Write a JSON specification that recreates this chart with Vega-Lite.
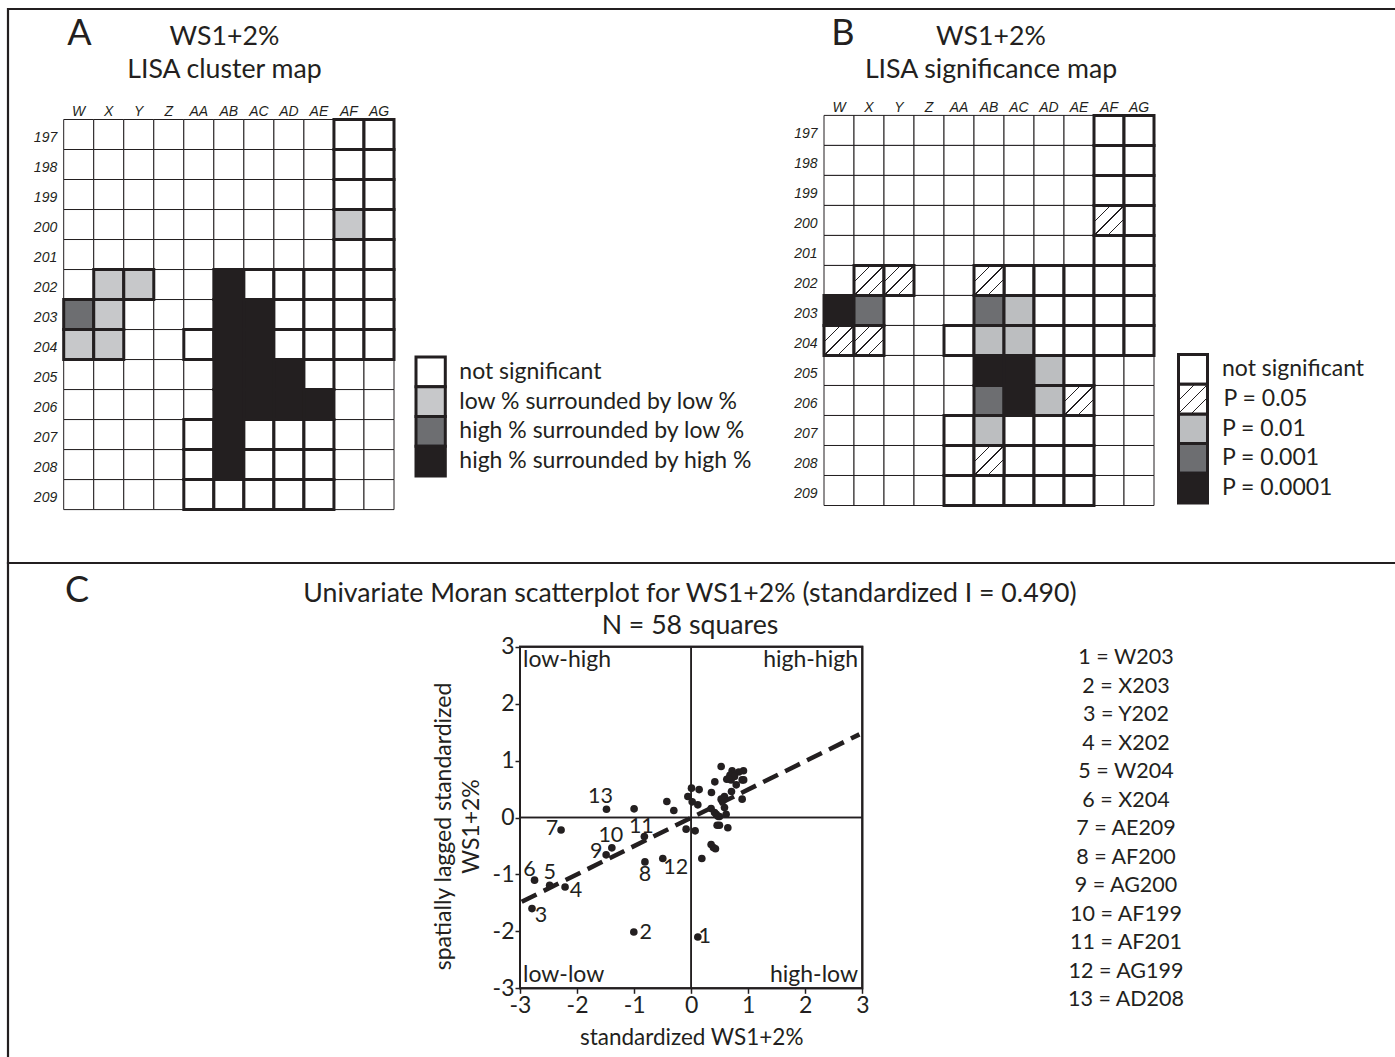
{
"$schema":"https://vega.github.io/schema/vega-lite/v6.json",
"width":1395,"height":1057,"padding":0,"autosize":{"type":"none"},"background":"white",
"config":{"view":{"stroke":null},"text":{"font":"Lato","color":"#231f20"},"axis":{"grid":false}},
"datasets":{
"sheet":[{"panel":"maps"},{"panel":"scatter"}],
"headA":[{"role":"letter","line":1,"text":"A"},{"role":"heading","line":1,"text":"WS1+2%"},{"role":"heading","line":2,"text":"LISA cluster map"}],
"headB":[{"role":"letter","line":1,"text":"B"},{"role":"heading","line":1,"text":"WS1+2%"},{"role":"heading","line":2,"text":"LISA significance map"}],
"headC":[{"role":"letter","line":1,"text":"C"},{"role":"heading","line":1,"text":"Univariate Moran scatterplot for WS1+2% (standardized I = 0.490)"},{"role":"heading","line":2,"text":"N = 58 squares"}],
"legendA":[{"key":"ns","label":"not significant"},{"key":"LL","label":"low % surrounded by low %"},{"key":"HL","label":"high % surrounded by low %"},{"key":"HH","label":"high % surrounded by high %"}],
"legendB":[{"key":"ns","label":"not significant"},{"key":"0.05","label":"P = 0.05"},{"key":"0.01","label":"P = 0.01"},{"key":"0.001","label":"P = 0.001"},{"key":"0.0001","label":"P = 0.0001"}],
"quadrants":[{"xside":"low","yside":"high","label":"low-high"},{"xside":"high","yside":"high","label":"high-high"},{"xside":"low","yside":"low","label":"low-low"},{"xside":"high","yside":"low","label":"high-low"}],
"fit":[{"x":-2.97,"y":-1.48},{"x":2.95,"y":1.46}],
"points":[
{"id":1,"square":"W203","entry":"1 =  W203","x":0.117,"y":-2.10},
{"id":2,"square":"X203","entry":"2 = X203","x":-1.005,"y":-2.01},
{"id":3,"square":"Y202","entry":"3 = Y202","x":-2.79,"y":-1.60},
{"id":4,"square":"X202","entry":"4 = X202","x":-2.21,"y":-1.22},
{"id":5,"square":"W204","entry":"5 = W204","x":-2.48,"y":-1.19},
{"id":6,"square":"X204","entry":"6 = X204","x":-2.745,"y":-1.10},
{"id":7,"square":"AE209","entry":"7 = AE209","x":-2.28,"y":-0.22},
{"id":8,"square":"AF200","entry":"8 = AF200","x":-0.81,"y":-0.78},
{"id":9,"square":"AG200","entry":"9 = AG200","x":-1.49,"y":-0.656},
{"id":10,"square":"AF199","entry":"10 = AF199","x":-1.39,"y":-0.533},
{"id":11,"square":"AF201","entry":"11 = AF201","x":-0.82,"y":-0.334},
{"id":12,"square":"AG199","entry":"12 = AG199","x":-0.497,"y":-0.72},
{"id":13,"square":"AD208","entry":"13 = AD208","x":-1.484,"y":0.146},
{"x":0.526,"y":0.896},{"x":0.718,"y":0.82},{"x":0.917,"y":0.82},{"x":0.835,"y":0.80},{"x":0.74,"y":0.76},{"x":0.68,"y":0.74},
{"x":0.625,"y":0.673},{"x":0.70,"y":0.66},{"x":0.894,"y":0.66},{"x":0.92,"y":0.66},{"x":0.79,"y":0.574},{"x":0.415,"y":0.626},
{"x":0.707,"y":0.457},{"x":0.356,"y":0.44},{"x":0.006,"y":0.515},{"x":0.14,"y":0.49},{"x":-0.058,"y":0.369},{"x":0.018,"y":0.275},
{"x":0.117,"y":0.222},{"x":-0.426,"y":0.281},{"x":-0.304,"y":0.123},{"x":0.894,"y":0.322},{"x":0.584,"y":0.369},{"x":0.526,"y":0.322},
{"x":0.555,"y":0.293},{"x":0.584,"y":0.176},{"x":0.35,"y":0.158},{"x":0.41,"y":0.088},{"x":0.44,"y":0.058},{"x":0.496,"y":0.018},
{"x":0.613,"y":0.058},{"x":0.456,"y":-0.135},{"x":0.496,"y":-0.135},{"x":0.643,"y":-0.18},{"x":-0.088,"y":-0.205},{"x":0.07,"y":-0.234},
{"x":0.35,"y":-0.474},{"x":0.39,"y":-0.527},{"x":0.426,"y":-0.55},{"x":0.187,"y":-0.72},{"x":-1.0,"y":0.152},
{"x":0.76,"y":0.72},{"x":0.66,"y":0.68},{"x":0.47,"y":0.02},{"x":0.56,"y":0.33}],
"squares":[
{"col":"W","row":197},{"col":"X","row":197},{"col":"Y","row":197},{"col":"Z","row":197},{"col":"AA","row":197},{"col":"AB","row":197},{"col":"AC","row":197},{"col":"AD","row":197},{"col":"AE","row":197},{"col":"AF","row":197,"cluster":"ns","signif":"ns"},{"col":"AG","row":197,"cluster":"ns","signif":"ns"},
{"col":"W","row":198},{"col":"X","row":198},{"col":"Y","row":198},{"col":"Z","row":198},{"col":"AA","row":198},{"col":"AB","row":198},{"col":"AC","row":198},{"col":"AD","row":198},{"col":"AE","row":198},{"col":"AF","row":198,"cluster":"ns","signif":"ns"},{"col":"AG","row":198,"cluster":"ns","signif":"ns"},
{"col":"W","row":199},{"col":"X","row":199},{"col":"Y","row":199},{"col":"Z","row":199},{"col":"AA","row":199},{"col":"AB","row":199},{"col":"AC","row":199},{"col":"AD","row":199},{"col":"AE","row":199},{"col":"AF","row":199,"cluster":"ns","signif":"ns"},{"col":"AG","row":199,"cluster":"ns","signif":"ns"},
{"col":"W","row":200},{"col":"X","row":200},{"col":"Y","row":200},{"col":"Z","row":200},{"col":"AA","row":200},{"col":"AB","row":200},{"col":"AC","row":200},{"col":"AD","row":200},{"col":"AE","row":200},{"col":"AF","row":200,"cluster":"LL","signif":"0.05"},{"col":"AG","row":200,"cluster":"ns","signif":"ns"},
{"col":"W","row":201},{"col":"X","row":201},{"col":"Y","row":201},{"col":"Z","row":201},{"col":"AA","row":201},{"col":"AB","row":201},{"col":"AC","row":201},{"col":"AD","row":201},{"col":"AE","row":201},{"col":"AF","row":201,"cluster":"ns","signif":"ns"},{"col":"AG","row":201,"cluster":"ns","signif":"ns"},
{"col":"W","row":202},{"col":"X","row":202,"cluster":"LL","signif":"0.05"},{"col":"Y","row":202,"cluster":"LL","signif":"0.05"},{"col":"Z","row":202},{"col":"AA","row":202},{"col":"AB","row":202,"cluster":"HH","signif":"0.05"},{"col":"AC","row":202,"cluster":"ns","signif":"ns"},{"col":"AD","row":202,"cluster":"ns","signif":"ns"},{"col":"AE","row":202,"cluster":"ns","signif":"ns"},{"col":"AF","row":202,"cluster":"ns","signif":"ns"},{"col":"AG","row":202,"cluster":"ns","signif":"ns"},
{"col":"W","row":203,"cluster":"HL","signif":"0.0001"},{"col":"X","row":203,"cluster":"LL","signif":"0.001"},{"col":"Y","row":203},{"col":"Z","row":203},{"col":"AA","row":203},{"col":"AB","row":203,"cluster":"HH","signif":"0.001"},{"col":"AC","row":203,"cluster":"HH","signif":"0.01"},{"col":"AD","row":203,"cluster":"ns","signif":"ns"},{"col":"AE","row":203,"cluster":"ns","signif":"ns"},{"col":"AF","row":203,"cluster":"ns","signif":"ns"},{"col":"AG","row":203,"cluster":"ns","signif":"ns"},
{"col":"W","row":204,"cluster":"LL","signif":"0.05"},{"col":"X","row":204,"cluster":"LL","signif":"0.05"},{"col":"Y","row":204},{"col":"Z","row":204},{"col":"AA","row":204,"cluster":"ns","signif":"ns"},{"col":"AB","row":204,"cluster":"HH","signif":"0.01"},{"col":"AC","row":204,"cluster":"HH","signif":"0.01"},{"col":"AD","row":204,"cluster":"ns","signif":"ns"},{"col":"AE","row":204,"cluster":"ns","signif":"ns"},{"col":"AF","row":204,"cluster":"ns","signif":"ns"},{"col":"AG","row":204,"cluster":"ns","signif":"ns"},
{"col":"W","row":205},{"col":"X","row":205},{"col":"Y","row":205},{"col":"Z","row":205},{"col":"AA","row":205},{"col":"AB","row":205,"cluster":"HH","signif":"0.0001"},{"col":"AC","row":205,"cluster":"HH","signif":"0.0001"},{"col":"AD","row":205,"cluster":"HH","signif":"0.01"},{"col":"AE","row":205,"cluster":"ns","signif":"ns"},{"col":"AF","row":205},{"col":"AG","row":205},
{"col":"W","row":206},{"col":"X","row":206},{"col":"Y","row":206},{"col":"Z","row":206},{"col":"AA","row":206},{"col":"AB","row":206,"cluster":"HH","signif":"0.001"},{"col":"AC","row":206,"cluster":"HH","signif":"0.0001"},{"col":"AD","row":206,"cluster":"HH","signif":"0.01"},{"col":"AE","row":206,"cluster":"HH","signif":"0.05"},{"col":"AF","row":206},{"col":"AG","row":206},
{"col":"W","row":207},{"col":"X","row":207},{"col":"Y","row":207},{"col":"Z","row":207},{"col":"AA","row":207,"cluster":"ns","signif":"ns"},{"col":"AB","row":207,"cluster":"HH","signif":"0.01"},{"col":"AC","row":207,"cluster":"ns","signif":"ns"},{"col":"AD","row":207,"cluster":"ns","signif":"ns"},{"col":"AE","row":207,"cluster":"ns","signif":"ns"},{"col":"AF","row":207},{"col":"AG","row":207},
{"col":"W","row":208},{"col":"X","row":208},{"col":"Y","row":208},{"col":"Z","row":208},{"col":"AA","row":208,"cluster":"ns","signif":"ns"},{"col":"AB","row":208,"cluster":"HH","signif":"0.05"},{"col":"AC","row":208,"cluster":"ns","signif":"ns"},{"col":"AD","row":208,"cluster":"ns","signif":"ns"},{"col":"AE","row":208,"cluster":"ns","signif":"ns"},{"col":"AF","row":208},{"col":"AG","row":208},
{"col":"W","row":209},{"col":"X","row":209},{"col":"Y","row":209},{"col":"Z","row":209},{"col":"AA","row":209,"cluster":"ns","signif":"ns"},{"col":"AB","row":209,"cluster":"ns","signif":"ns"},{"col":"AC","row":209,"cluster":"ns","signif":"ns"},{"col":"AD","row":209,"cluster":"ns","signif":"ns"},{"col":"AE","row":209,"cluster":"ns","signif":"ns"},{"col":"AF","row":209},{"col":"AG","row":209}
]},
"resolve":{"scale":{"x":"independent","y":"independent"},"axis":{"x":"independent","y":"independent"}},
"layer":[
{"data":{"name":"sheet"},"mark":{"type":"rect","filled":false,"stroke":"#231f20","strokeWidth":2.2},
 "encoding":{"x":{"datum":"sheet","type":"nominal","axis":null,"scale":{"type":"band","domain":["sheet"],"range":[8,1420],"padding":0}},
 "y":{"field":"panel","type":"nominal","axis":null,"scale":{"type":"band","domain":["maps","scatter"],"range":[9,1117],"padding":0}}}},

{"data":{"name":"squares"},"layer":[
 {"mark":{"type":"rect","fill":"white","stroke":"#231f20","strokeWidth":1},
  "encoding":{"x":{"field":"col","type":"nominal","sort":null,"title":null,"scale":{"type":"band","padding":0,"domain":["W","X","Y","Z","AA","AB","AC","AD","AE","AF","AG"],"range":[63.7,394]},
    "axis":{"orient":"top","offset":-119.5,"domain":false,"ticks":false,"labelAngle":0,"labelPadding":1,"labelFont":"Liberation Sans","labelFontStyle":"italic","labelFontSize":14,"labelColor":"#231f20"}},
   "y":{"field":"row","type":"ordinal","title":null,"scale":{"type":"band","padding":0,"domain":[197,198,199,200,201,202,203,204,205,206,207,208,209],"range":[119.5,509.6]},
    "axis":{"orient":"left","offset":-63.7,"domain":false,"ticks":false,"labelPadding":7,"labelOffset":3.5,"labelFont":"Liberation Sans","labelFontStyle":"italic","labelFontSize":14,"labelColor":"#231f20"}}}},
 {"transform":[{"filter":"isValid(datum.cluster)"}],"mark":{"type":"rect","stroke":"#231f20","strokeWidth":3},
  "encoding":{"x":{"field":"col","type":"nominal","title":null},"y":{"field":"row","type":"ordinal","title":null},
   "fill":{"field":"cluster","type":"nominal","legend":null,"scale":{"domain":["ns","LL","HL","HH","0.05","0.01","0.001","0.0001"],"range":["#ffffff","#c7c8ca","#6d6e71","#231f20","#ffffff","#bcbec0","#6d6e71","#231f20"]}}}}
]},

{"data":{"name":"squares"},"layer":[
 {"mark":{"type":"rect","fill":"white","stroke":"#231f20","strokeWidth":1},
  "encoding":{"x":{"field":"col","type":"nominal","sort":null,"title":null,"scale":{"type":"band","padding":0,"domain":["W","X","Y","Z","AA","AB","AC","AD","AE","AF","AG"],"range":[824,1154]},
    "axis":{"orient":"top","offset":-115.4,"domain":false,"ticks":false,"labelAngle":0,"labelPadding":1,"labelFont":"Liberation Sans","labelFontStyle":"italic","labelFontSize":14,"labelColor":"#231f20"}},
   "y":{"field":"row","type":"ordinal","title":null,"scale":{"type":"band","padding":0,"domain":[197,198,199,200,201,202,203,204,205,206,207,208,209],"range":[115.4,505.5]},
    "axis":{"orient":"left","offset":-824,"domain":false,"ticks":false,"labelPadding":7,"labelOffset":3.5,"labelFont":"Liberation Sans","labelFontStyle":"italic","labelFontSize":14,"labelColor":"#231f20"}}}},
 {"transform":[{"filter":"isValid(datum.signif) && datum.signif != '0.05'"}],"mark":{"type":"rect","stroke":"#231f20","strokeWidth":3},
  "encoding":{"x":{"field":"col","type":"nominal","title":null},"y":{"field":"row","type":"ordinal","title":null},
   "fill":{"field":"signif","type":"nominal","legend":null,"scale":{"domain":["ns","LL","HL","HH","0.05","0.01","0.001","0.0001"],"range":["#ffffff","#c7c8ca","#6d6e71","#231f20","#ffffff","#bcbec0","#6d6e71","#231f20"]}}}},
 {"transform":[{"filter":"datum.signif == '0.05'"}],"mark":{"type":"rect","stroke":"#231f20","strokeWidth":3,
   "fill":{"gradient":"linear","x1":0,"y1":0,"x2":1,"y2":1,"stops":[{"offset":0,"color":"#ffffff"},{"offset":0.27,"color":"#ffffff"},{"offset":0.27,"color":"#231f20"},{"offset":0.29,"color":"#231f20"},{"offset":0.29,"color":"#ffffff"},{"offset":0.49,"color":"#ffffff"},{"offset":0.49,"color":"#231f20"},{"offset":0.51,"color":"#231f20"},{"offset":0.51,"color":"#ffffff"},{"offset":0.71,"color":"#ffffff"},{"offset":0.71,"color":"#231f20"},{"offset":0.73,"color":"#231f20"},{"offset":0.73,"color":"#ffffff"},{"offset":1,"color":"#ffffff"}]}},
  "encoding":{"x":{"field":"col","type":"nominal","title":null},"y":{"field":"row","type":"ordinal","title":null}}}
]},

{"data":{"name":"legendA"},"layer":[
 {"mark":{"type":"rect","stroke":"#231f20","strokeWidth":3},
  "encoding":{"x":{"datum":"swatch","type":"nominal","axis":null,"scale":{"type":"band","padding":0,"domain":["swatch"],"range":[416,445.3]}},
   "y":{"field":"label","type":"nominal","axis":null,"sort":null,"scale":{"type":"band","padding":0,"domain":["not significant","low % surrounded by low %","high % surrounded by low %","high % surrounded by high %"],"range":[357,476]}},
   "fill":{"field":"key","type":"nominal","legend":null,"scale":{"domain":["ns","LL","HL","HH","0.05","0.01","0.001","0.0001"],"range":["#ffffff","#c7c8ca","#6d6e71","#231f20","#ffffff","#bcbec0","#6d6e71","#231f20"]}}}},
 {"mark":{"type":"text","align":"left","baseline":"middle","fontSize":23,"dx":14},
  "encoding":{"x":{"datum":"swatch","type":"nominal","bandPosition":1,"axis":null},"y":{"field":"label","type":"nominal","axis":null,"sort":null},"text":{"field":"label"}}}
]},

{"data":{"name":"legendB"},"layer":[
 {"transform":[{"filter":"datum.key != '0.05'"}],"mark":{"type":"rect","stroke":"#231f20","strokeWidth":3},
  "encoding":{"x":{"datum":"swatch","type":"nominal","axis":null,"scale":{"type":"band","padding":0,"domain":["swatch"],"range":[1178.5,1207.5]}},
   "y":{"field":"label","type":"nominal","axis":null,"sort":null,"scale":{"type":"band","padding":0,"domain":["not significant","P = 0.05","P = 0.01","P = 0.001","P = 0.0001"],"range":[354.5,503]}},
   "fill":{"field":"key","type":"nominal","legend":null,"scale":{"domain":["ns","LL","HL","HH","0.05","0.01","0.001","0.0001"],"range":["#ffffff","#c7c8ca","#6d6e71","#231f20","#ffffff","#bcbec0","#6d6e71","#231f20"]}}}},
 {"transform":[{"filter":"datum.key == '0.05'"}],"mark":{"type":"rect","stroke":"#231f20","strokeWidth":3,
   "fill":{"gradient":"linear","x1":0,"y1":0,"x2":1,"y2":1,"stops":[{"offset":0,"color":"#ffffff"},{"offset":0.27,"color":"#ffffff"},{"offset":0.27,"color":"#231f20"},{"offset":0.29,"color":"#231f20"},{"offset":0.29,"color":"#ffffff"},{"offset":0.49,"color":"#ffffff"},{"offset":0.49,"color":"#231f20"},{"offset":0.51,"color":"#231f20"},{"offset":0.51,"color":"#ffffff"},{"offset":0.71,"color":"#ffffff"},{"offset":0.71,"color":"#231f20"},{"offset":0.73,"color":"#231f20"},{"offset":0.73,"color":"#ffffff"},{"offset":1,"color":"#ffffff"}]}},
  "encoding":{"x":{"datum":"swatch","type":"nominal","axis":null},"y":{"field":"label","type":"nominal","axis":null,"sort":null}}},
 {"mark":{"type":"text","align":"left","baseline":"middle","fontSize":23,"dx":{"expr":"datum.key == '0.05' ? 16 : 14.5"}},
  "encoding":{"x":{"datum":"swatch","type":"nominal","bandPosition":1,"axis":null},"y":{"field":"label","type":"nominal","axis":null,"sort":null},"text":{"field":"label"}}}
]},

{"data":{"name":"headA"},"mark":{"type":"text","align":"center","baseline":"alphabetic","fontSize":{"expr":"datum.role == 'letter' ? 36 : 26.7"}},
 "encoding":{"x":{"field":"role","type":"nominal","axis":null,"scale":{"type":"point","padding":0,"domain":["letter","heading"],"range":[79.5,224.5]}},
  "y":{"field":"line","type":"ordinal","axis":null,"scale":{"type":"point","padding":0,"domain":[1,2],"range":[44.5,78]}},"text":{"field":"text"}}},
{"data":{"name":"headB"},"mark":{"type":"text","align":"center","baseline":"alphabetic","fontSize":{"expr":"datum.role == 'letter' ? 36 : 26.7"}},
 "encoding":{"x":{"field":"role","type":"nominal","axis":null,"scale":{"type":"point","padding":0,"domain":["letter","heading"],"range":[843,991]}},
  "y":{"field":"line","type":"ordinal","axis":null,"scale":{"type":"point","padding":0,"domain":[1,2],"range":[44.5,78]}},"text":{"field":"text"}}},
{"data":{"name":"headC"},"mark":{"type":"text","align":"center","baseline":"alphabetic","fontSize":{"expr":"datum.role == 'letter' ? 36 : 26.7"}},
 "encoding":{"x":{"field":"role","type":"nominal","axis":null,"scale":{"type":"point","padding":0,"domain":["letter","heading"],"range":[77,690]}},
  "y":{"field":"line","type":"ordinal","axis":null,"scale":{"type":"point","padding":0,"domain":[1,2],"range":[602,634]}},"text":{"field":"text"}}},

{"layer":[
 {"data":{"name":"points"},"mark":{"type":"circle","size":58,"color":"#231f20","opacity":1},
  "encoding":{"x":{"field":"x","type":"quantitative","title":"standardized WS1+2%","scale":{"domain":[-3,3],"range":[520,862.3],"nice":false,"zero":false},
    "axis":{"orient":"bottom","offset":-68.7,"values":[-3,-2,-1,0,1,2,3],"domain":false,"tickSize":5,"tickWidth":1.5,"tickColor":"#231f20","labelFont":"Lato","labelFontSize":23,"labelColor":"#231f20","labelPadding":1,"labelExpr":"'' + datum.value","labelFlush":false,"titleFont":"Lato","titleFontSize":22.5,"titleFontWeight":"normal","titleColor":"#231f20","titlePadding":9}},
   "y":{"field":"y","type":"quantitative","title":["spatially lagged standardized","WS1+2%"],"scale":{"domain":[-3,3],"range":[988.3,646.7],"nice":false,"zero":false},
    "axis":{"orient":"left","offset":-520,"values":[-3,-2,-1,0,1,2,3],"domain":false,"tickSize":5,"tickWidth":1.5,"tickColor":"#231f20","labelFont":"Lato","labelFontSize":23,"labelColor":"#231f20","labelPadding":1,"labelExpr":"'' + datum.value","labelFlush":false,"titleFont":"Lato","titleFontSize":23,"titleFontWeight":"normal","titleColor":"#231f20","titlePadding":9,"titleLineHeight":28,"titleY":826}}}},
 {"data":{"name":"fit"},"mark":{"type":"line","stroke":"#231f20","strokeWidth":4.5,"strokeDash":[16.5,8]},
  "encoding":{"x":{"field":"x","type":"quantitative"},"y":{"field":"y","type":"quantitative"}}},
 {"data":{"name":"sheet"},"mark":{"type":"rule","stroke":"#231f20","strokeWidth":1.6},
  "encoding":{"x":{"datum":0,"type":"quantitative"},"y":{"datum":-3,"type":"quantitative"},"y2":{"datum":3}}},
 {"data":{"name":"sheet"},"mark":{"type":"rule","stroke":"#231f20","strokeWidth":1.6},
  "encoding":{"y":{"datum":0,"type":"quantitative"},"x":{"datum":-3,"type":"quantitative"},"x2":{"datum":3}}},
 {"data":{"name":"sheet"},"mark":{"type":"rect","filled":false,"stroke":"#231f20","strokeWidth":2},
  "encoding":{"x":{"datum":-3,"type":"quantitative"},"x2":{"datum":3},"y":{"datum":-3,"type":"quantitative"},"y2":{"datum":3}}},
 {"data":{"name":"points"},"transform":[{"filter":"isValid(datum.id)"}],
  "mark":{"type":"text","fontSize":21.5,"align":"center","baseline":"middle",
   "dx":{"expr":"[0,7,12,9,11,0,-5,-9,0,-10,-1,-3,13,-6][datum.id]"},
   "dy":{"expr":"[0,0,1,7,4,-12,-10,-1,13,-3,-12,-10,10,-12][datum.id]"}},
  "encoding":{"x":{"field":"x","type":"quantitative"},"y":{"field":"y","type":"quantitative"},"text":{"field":"id"}}}
]},

{"data":{"name":"quadrants"},"mark":{"type":"text","fontSize":23,"baseline":"alphabetic","align":{"expr":"datum.xside == 'low' ? 'left' : 'right'"}},
 "encoding":{"x":{"field":"xside","type":"nominal","axis":null,"scale":{"type":"point","padding":0,"domain":["low","high"],"range":[523,858]}},
  "y":{"field":"yside","type":"nominal","axis":null,"scale":{"type":"point","padding":0,"domain":["high","low"],"range":[667,981.5]}},"text":{"field":"label"}}},

{"data":{"name":"points"},"transform":[{"filter":"isValid(datum.id)"}],"mark":{"type":"text","fontSize":21.5,"align":"center","baseline":"middle"},
 "encoding":{"x":{"datum":"key","type":"nominal","axis":null,"scale":{"type":"band","padding":0,"domain":["key"],"range":[1066,1186]}},
  "y":{"field":"id","type":"ordinal","axis":null,"scale":{"type":"point","padding":0,"domain":[1,2,3,4,5,6,7,8,9,10,11,12,13],"range":[658,1000]}},"text":{"field":"entry"}}}
]}
